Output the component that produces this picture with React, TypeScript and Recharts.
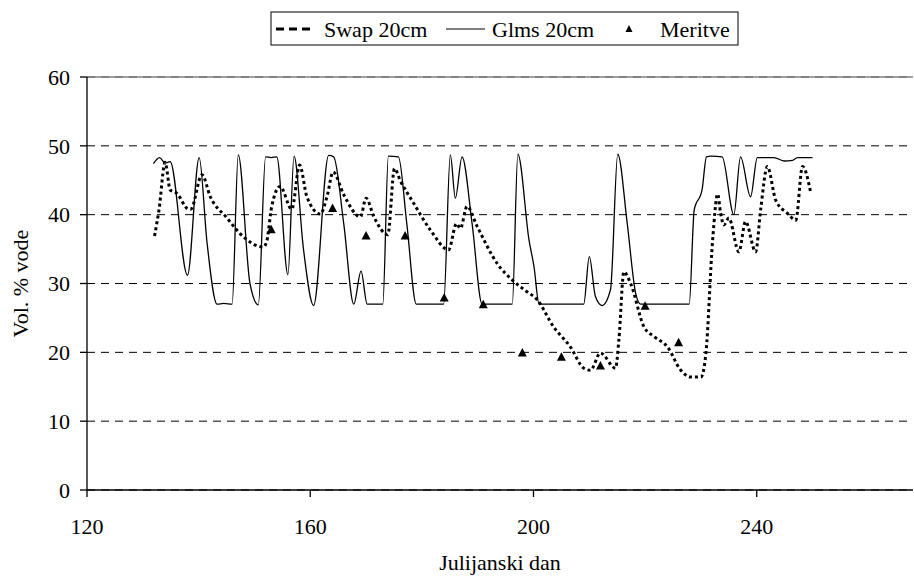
import { ComposedChart, Line, Scatter, XAxis, YAxis, CartesianGrid, ReferenceLine } from 'recharts';

// Glms 20cm (solid line)
const glmsDays = [
  131.9, 133.0, 134.0, 134.9, 138.0, 140.1, 141.5, 143.3, 144.5, 146.0, 147.1, 149.2, 150.7, 152.0, 153.0,
  154.0, 156.0, 157.1, 158.8, 160.6, 163.3, 164.2, 166.0, 167.8, 169.1, 170.2, 173.0, 174.0, 175.8, 177.3,
  179.0, 183.9, 185.1, 186.0, 187.2, 189.0, 190.8, 196.2, 197.2, 199.2, 200.1, 201.0, 209.0, 210.0, 211.1,
  212.3, 213.8, 215.1, 216.8, 218.3, 219.2, 227.9, 228.8, 230.2, 231.0, 231.8, 233.8, 235.9, 237.1, 238.9,
  240.1, 243.1, 244.9, 246.4, 247.3, 250.0,
];
const glmsValues = [
  47.4, 48.3, 47.5, 47.7, 31.2, 48.3, 36.0, 27.0, 27.1, 27.0, 48.7, 30.0, 26.9, 48.4, 48.3,
  48.4, 31.3, 48.5, 34.9, 26.8, 48.6, 48.4, 38.7, 27.0, 31.8, 27.0, 27.0, 48.5, 48.4, 38.7,
  27.0, 27.0, 48.7, 42.4, 48.4, 38.7, 27.0, 27.0, 48.8, 36.3, 32.4, 27.0, 27.0, 33.9, 28.1,
  26.8, 29.1, 48.8, 38.7, 28.6, 27.0, 27.0, 40.7, 43.6, 48.4, 48.5, 48.4, 40.0, 48.4, 42.6,
  48.3, 48.3, 47.8, 47.9, 48.3, 48.3,
];

// Swap 20cm (dotted line)
const swapDays = [
  132.1, 132.9, 134.0, 134.9, 136.1, 138.2, 138.6, 140.6, 142.1, 145.1, 148.0, 151.6, 152.2, 153.1, 154.6,
  156.7, 158.1, 159.4, 161.8, 163.0, 164.1, 166.0, 169.0, 170.0, 171.4, 173.9, 175.1, 176.1, 178.5, 181.5,
  184.8, 186.2, 186.9, 188.1, 189.9, 193.5, 196.2, 198.5, 200.7, 203.6, 206.6, 209.0, 210.2, 212.0, 214.7,
  215.3, 216.2, 217.4, 219.8, 221.6, 224.0, 226.4, 228.2, 230.0, 230.9, 232.1, 233.0, 233.5, 234.1, 235.0,
  236.8, 238.0, 239.8, 240.7, 241.9, 243.4, 245.5, 247.0, 248.2, 249.7,
];
const swapValues = [
  36.9, 40.7, 47.6, 43.6, 43.1, 40.8, 40.8, 45.8, 42.6, 39.5, 36.8, 35.3, 36.1, 41.2, 44.1,
  40.8, 47.2, 42.6, 40.1, 42.6, 46.2, 42.9, 39.7, 42.4, 39.7, 37.1, 46.7, 45.0, 41.7, 37.8,
  34.9, 38.7, 38.0, 41.2, 38.3, 32.9, 30.5, 29.0, 27.6, 23.7, 20.8, 17.7, 17.4, 19.9, 17.7,
  21.8, 31.7, 30.0, 23.7, 22.3, 20.8, 17.4, 16.4, 16.4, 19.9, 36.3, 43.0, 40.4, 38.5, 39.5,
  34.6, 39.0, 34.6, 40.7, 47.0, 42.1, 40.2, 39.2, 47.0, 43.1,
];

// Meritve (measurements)
const meritveDays = [153, 164, 170, 177, 184, 191, 198, 205, 212, 220, 226];
const meritveValues = [37.8, 40.9, 36.9, 36.9, 27.9, 26.9, 19.9, 19.3, 18.0, 26.7, 21.4];

const xTicks = [120, 160, 200, 240];
const yTicks = [0, 10, 20, 30, 40, 50, 60];

const glmsData = glmsDays.map((d, i) => ({ day: d, v: glmsValues[i] }));
const swapData = swapDays.map((d, i) => ({ day: d, v: swapValues[i] }));
const meritveData = meritveDays.map((d, i) => ({ day: d, v: meritveValues[i] }));

const font = 'Liberation Serif, Times New Roman, Times, DejaVu Serif, serif';
const textStyle = { fontFamily: font, fontSize: 22, fill: '#000' };

const Triangle = (props: any) => {
  const { cx, cy } = props;
  if (cx == null || cy == null) return null;
  return <polygon points={`${cx},${cy - 5} ${cx + 4.5},${cy + 3.5} ${cx - 4.5},${cy + 3.5}`} fill="#000" />;
};

function ChartLegend() {
  return (
    <svg width={470} height={35} style={{ position: 'absolute', left: 270, top: 11 }}>
      <rect x={1} y={1} width={467} height={33} fill="#fff" stroke="#000" strokeWidth={1} />
      <line x1={6} y1={18} x2={42} y2={18} stroke="#000" strokeWidth={3} strokeDasharray="8 5" />
      <text x={54} y={26} style={textStyle}>Swap 20cm</text>
      <line x1={176} y1={18} x2={215} y2={18} stroke="#000" strokeWidth={1.2} />
      <text x={222} y={26} style={textStyle}>Glms 20cm</text>
      <polygon points="359,14 362.5,21 355.5,21" fill="#000" />
      <text x={390} y={26} style={textStyle}>Meritve</text>
    </svg>
  );
}

export default function App() {
  return (
    <div style={{ position: 'absolute', left: 0, top: 0, width: 914, height: 578, background: '#fff', fontFamily: font }}>
      <ComposedChart
        width={914}
        height={578}
        margin={{ top: 77, right: 1, bottom: 0, left: 0 }}
        style={{ fontFamily: font }}
      >
        <CartesianGrid vertical={false} stroke="#000" strokeDasharray="8 6" />
        <ReferenceLine y={60} stroke="#808080" strokeWidth={1.5} ifOverflow="extendDomain" />
        <XAxis
          dataKey="day"
          type="number"
          domain={[120, 268]}
          ticks={xTicks}
          allowDataOverflow
          height={88}
          stroke="#000"
          strokeWidth={1.3}
          tickSize={7}
          tickMargin={21}
          tick={{ fill: '#000', fontSize: 22, fontFamily: font, style: textStyle }}
          label={{ value: 'Julijanski dan', position: 'insideBottom', offset: 8, style: textStyle }}
        />
        <YAxis
          dataKey="v"
          type="number"
          domain={[0, 60]}
          ticks={yTicks}
          width={87}
          stroke="#000"
          strokeWidth={1.3}
          tickSize={7}
          tickMargin={10}
          tick={{ fill: '#000', fontSize: 22, fontFamily: font, style: textStyle }}
          label={{
            value: 'Vol. % vode',
            angle: -90,
            position: 'insideLeft',
            offset: 20,
            style: { ...textStyle, textAnchor: 'middle' },
          }}
        />
        <Line
          data={glmsData}
          dataKey="v"
          type="monotone"
          stroke="#000"
          strokeWidth={1.3}
          dot={false}
          isAnimationActive={false}
        />
        <Line
          data={swapData}
          dataKey="v"
          type="monotone"
          stroke="#000"
          strokeWidth={3}
          strokeDasharray="3 3"
          dot={false}
          isAnimationActive={false}
        />
        <Scatter data={meritveData} dataKey="v" shape={Triangle} isAnimationActive={false} />
      </ComposedChart>
      <ChartLegend />
    </div>
  );
}
